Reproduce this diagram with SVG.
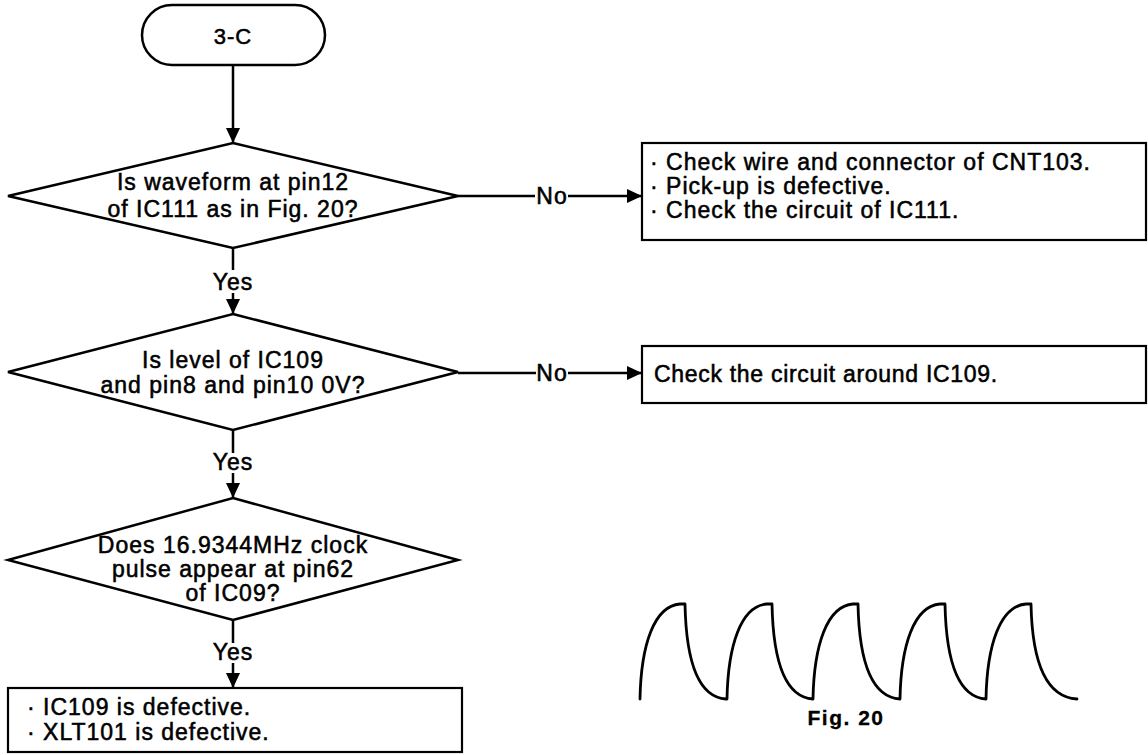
<svg xmlns="http://www.w3.org/2000/svg" width="1148" height="755" viewBox="0 0 1148 755">
  <style>
    .t { font-family: "Liberation Sans", Arial, Helvetica, sans-serif; font-size: 23px; letter-spacing: 1px; fill: #000; stroke: #000; stroke-width: 0.55; }
    .c { text-anchor: middle; }
    .shape { fill: #fff; stroke: #000; stroke-width: 2.5; }
    .box { fill: #fff; stroke: #000; stroke-width: 2.2; }
    .wire { fill: none; stroke: #000; stroke-width: 2.5; }
    .wave { fill: none; stroke: #000; stroke-width: 2.8; stroke-linejoin: round; stroke-linecap: round; }
    .fig { font-family: "Liberation Sans", Arial, Helvetica, sans-serif; font-size: 21px; font-weight: bold; letter-spacing: 1.5px; fill: #000; stroke: #000; stroke-width: 0.3; text-anchor: middle; }
  </style>
  <defs>
    <marker id="arrow" viewBox="0 0 15 14" refX="15" refY="7" markerWidth="15" markerHeight="14" markerUnits="userSpaceOnUse" orient="auto">
      <path d="M0,0 L15,7 L0,14 z" fill="#000"/>
    </marker>
  </defs>
  <rect width="1148" height="755" fill="#fff"/>

  <!-- connectors -->
  <g id="connectors">
    <path class="wire" d="M233,65 V143" marker-end="url(#arrow)"/>
    <path class="wire" d="M233,248 V270"/>
    <path class="wire" d="M233,293 V314" marker-end="url(#arrow)"/>
    <text class="t c" x="233" y="290">Yes</text>
    <path class="wire" d="M233,430 V453"/>
    <path class="wire" d="M233,473 V498" marker-end="url(#arrow)"/>
    <text class="t c" x="233" y="470">Yes</text>
    <path class="wire" d="M233,620 V643"/>
    <path class="wire" d="M233,663 V688" marker-end="url(#arrow)"/>
    <text class="t c" x="233" y="660">Yes</text>
    <path class="wire" d="M458,196 H535"/>
    <path class="wire" d="M568,196 H642" marker-end="url(#arrow)"/>
    <text class="t c" x="552" y="204">No</text>
    <path class="wire" d="M458,373 H536"/>
    <path class="wire" d="M568,373 H642" marker-end="url(#arrow)"/>
    <text class="t c" x="552" y="381">No</text>
  </g>

  <g id="start">
    <rect class="shape" x="142" y="5" width="183" height="60" rx="30" ry="30"/>
    <text class="t c" x="233" y="44" style="font-size:22px">3-C</text>
  </g>

  <g id="q-waveform">
    <polygon class="shape" points="233,143 458,196 233,248 8,196"/>
    <text class="t c" x="233" y="190">Is waveform at pin12</text>
    <text class="t c" x="233" y="217">of IC111 as in Fig. 20?</text>
  </g>

  <g id="r-waveform-ng">
    <rect class="box" x="642" y="143" width="504" height="97"/>
    <text class="t" x="650" y="170">· Check wire and connector of CNT103.</text>
    <text class="t" x="650" y="194">· Pick-up is defective.</text>
    <text class="t" x="650" y="218">· Check the circuit of IC111.</text>
  </g>

  <g id="q-level">
    <polygon class="shape" points="233,314 458,372 233,430 8,372"/>
    <text class="t c" x="233" y="368">Is level of IC109</text>
    <text class="t c" x="233" y="393">and pin8 and pin10 0V?</text>
  </g>

  <g id="r-level-ng">
    <rect class="box" x="642" y="346" width="504" height="57"/>
    <text class="t" x="654" y="382" style="letter-spacing:0.7px">Check the circuit around IC109.</text>
  </g>

  <g id="q-clock">
    <polygon class="shape" points="233,498 458,560 233,620 8,560"/>
    <text class="t c" x="233" y="553">Does 16.9344MHz clock</text>
    <text class="t c" x="233" y="577">pulse appear at pin62</text>
    <text class="t c" x="233" y="601">of IC09?</text>
  </g>

  <g id="r-defective">
    <rect class="box" x="8" y="688" width="454" height="64"/>
    <text class="t" x="27" y="715">· IC109 is defective.</text>
    <text class="t" x="27" y="740">· XLT101 is defective.</text>
  </g>

  <!-- Fig. 20: expected waveform at pin12 -->
  <g id="fig20">
    <path class="wave" d="M640,699 C641,645 654,606 680,604 L685,604 C686,655 696,697 726,699
      L727,699 C728,645 741,606 767,604 L772,604 C773,655 783,697 813,699
      C814,645 827,606 853,604 L858,604 C859,655 869,697 900,699
      C901,645 914,606 940,604 L945,604 C946,655 956,697 986,699
      C987,645 1000,606 1026,604 L1031,604 C1032,655 1043,697 1077,699"/>
    <text class="fig" x="846" y="725">Fig. 20</text>
  </g>
</svg>
